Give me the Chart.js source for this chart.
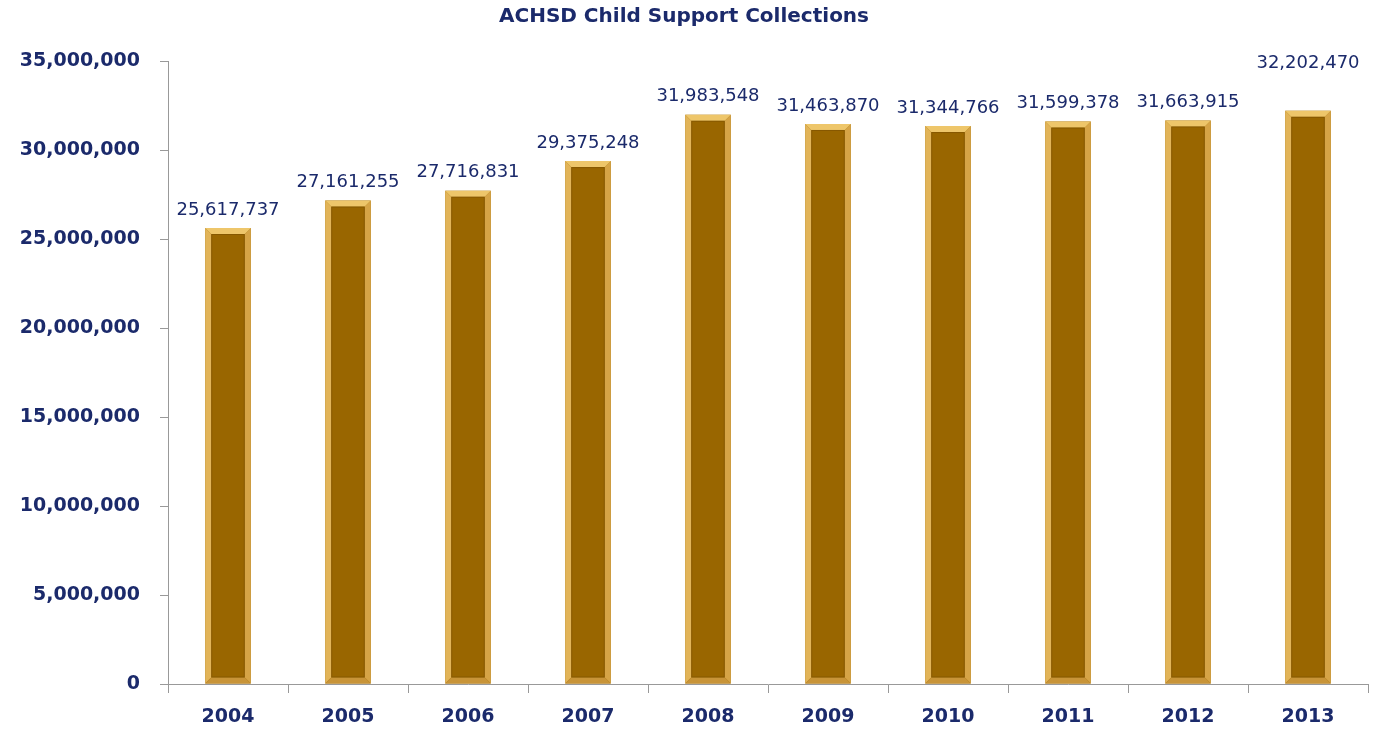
<!DOCTYPE html>
<html>
<head>
<meta charset="utf-8">
<title>ACHSD Child Support Collections</title>
<script src="https://cdn.jsdelivr.net/npm/chart.js@4/dist/chart.umd.min.js"></script>
<style>
  body { margin: 0; background: #fff; }
  #wrap { width: 1382px; height: 734px; }
</style>
</head>
<body>
<div id="wrap"><canvas id="Chart1" width="1382" height="734"></canvas></div>
<script>
let years = ['2004', '2005', '2006', '2007', '2008', '2009', '2010', '2011', '2012', '2013'];
let collections = [25617737, 27161255, 27716831, 29375248, 31983548, 31463870, 31344766, 31599378, 31663915, 32202470];
let yTicks = [0, 5000000, 10000000, 15000000, 20000000, 25000000, 30000000, 35000000];

const navy = '#1b2a6b';
const fontFam = '"DejaVu Sans", sans-serif';

// bevelled edges drawn over each bar
let bevel = {
    id: 'bevel',
    afterDatasetsDraw(chart) {
        let ctx = chart.ctx;
        let meta = chart.getDatasetMeta(0);
        ctx.save();
        meta.data.forEach(function (bar) {
            let l = bar.x - bar.width / 2, r = bar.x + bar.width / 2;
            let t = bar.y, b = bar.base;
            let e = 6;
            // left
            ctx.fillStyle = '#e2b458';
            ctx.beginPath();
            ctx.moveTo(l, t); ctx.lineTo(l + e, t + e); ctx.lineTo(l + e, b - e); ctx.lineTo(l, b);
            ctx.closePath(); ctx.fill();
            // right
            ctx.fillStyle = '#d6a446';
            ctx.beginPath();
            ctx.moveTo(r, t); ctx.lineTo(r - e, t + e); ctx.lineTo(r - e, b - e); ctx.lineTo(r, b);
            ctx.closePath(); ctx.fill();
            // top
            ctx.fillStyle = '#eec66a';
            ctx.beginPath();
            ctx.moveTo(l, t); ctx.lineTo(r, t); ctx.lineTo(r - e, t + e); ctx.lineTo(l + e, t + e);
            ctx.closePath(); ctx.fill();
            // bottom
            ctx.fillStyle = '#c89438';
            ctx.beginPath();
            ctx.moveTo(l, b); ctx.lineTo(r, b); ctx.lineTo(r - e, b - e); ctx.lineTo(l + e, b - e);
            ctx.closePath(); ctx.fill();
            // thin inner shade
            ctx.strokeStyle = 'rgba(110,70,0,0.45)';
            ctx.lineWidth = 1;
            ctx.strokeRect(l + e + 0.5, t + e + 0.5, r - l - 2 * e - 1, b - t - 2 * e - 1);
        });
        ctx.restore();
    }
};

// value labels above the bars
let valueLabels = {
    id: 'valueLabels',
    afterDatasetsDraw(chart) {
        let ctx = chart.ctx;
        let meta = chart.getDatasetMeta(0);
        ctx.save();
        ctx.font = '18px ' + fontFam;
        ctx.fillStyle = navy;
        ctx.textAlign = 'center';
        ctx.textBaseline = 'middle';
        meta.data.forEach(function (bar, i) {
            let lift = i === meta.data.length - 1 ? 47 : 18;
            ctx.fillText(collections[i].toLocaleString('en-US'), bar.x, bar.y - lift);
        });
        ctx.restore();
    }
};

let config = {
    type: 'bar',
    data: {
        labels: years,
        datasets: [{
            data: collections,
            backgroundColor: '#996600',
            borderWidth: 0,
            categoryPercentage: 1,
            barPercentage: 0.38
        }]
    },
    options: {
        responsive: false,
        animation: false,
        layout: { padding: { top: 0, right: 14, bottom: 0, left: 0 } },
        plugins: {
            legend: { display: false },
            tooltip: { enabled: false },
            title: {
                display: true,
                text: 'ACHSD Child Support Collections',
                color: navy,
                font: { family: fontFam, size: 20, weight: 'bold' },
                padding: { top: 5, bottom: 32 }
            }
        },
        scales: {
            x: {
                afterFit(scale) { scale.height = 50; },
                grid: { drawOnChartArea: false, color: '#999', tickLength: 9 },
                border: { color: '#999' },
                ticks: { color: navy, padding: 13, font: { family: fontFam, size: 19, weight: 'bold' } }
            },
            y: {
                min: 0,
                max: 35000000,
                afterBuildTicks(scale) { scale.ticks = yTicks.map(v => ({ value: v })); },
                afterFit(scale) { scale.width = 168; },
                grid: { drawOnChartArea: false, color: '#999', tickLength: 8 },
                border: { color: '#999' },
                ticks: {
                    color: navy,
                    padding: 20,
                    font: { family: fontFam, size: 19, weight: 'bold' },
                    callback: v => v.toLocaleString('en-US')
                }
            }
        }
    },
    plugins: [bevel, valueLabels]
};

let ctx = document.getElementById('Chart1');
let myChart = new Chart(ctx, config);
</script>
</body>
</html>
